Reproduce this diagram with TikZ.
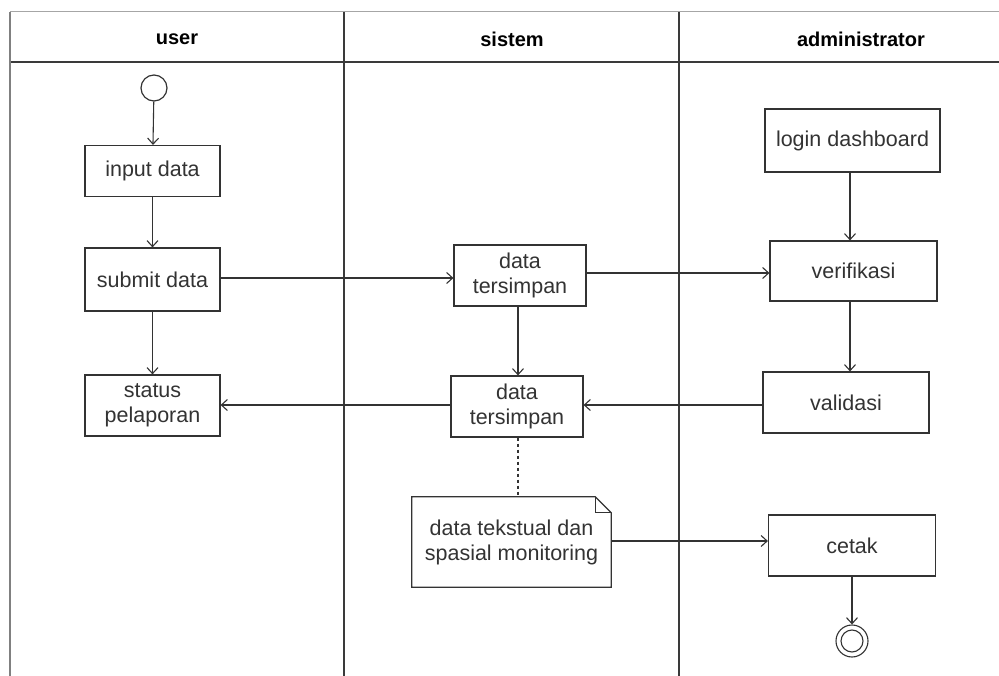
\documentclass[tikz,border=0pt]{standalone}
\usepackage{fontspec}
\setmainfont{Liberation Sans}
\usetikzlibrary{arrows.meta}
\definecolor{lane}{HTML}{3A3A3A}
\definecolor{ink}{HTML}{333333}
\begin{document}
\begin{tikzpicture}[x=1pt,y=-1pt,
  every node/.style={font=\fontsize{21.5}{25}\selectfont, text=ink},
  act/.style={draw=ink, line width=1.2pt, fill=white, align=center, inner sep=2pt},
  lanehead/.style={font=\fontsize{20}{22}\selectfont\bfseries, text=black},
  flow/.style={draw=ink, line width=1.1pt, -{Straight Barb[length=6pt,width=11pt,line width=1.1pt]}},
  link/.style={draw=ink, line width=1.1pt, dash pattern=on 3pt off 3pt}
]
\useasboundingbox (0,0) rectangle (999,676);
% swimlane frame
\draw[draw=gray!70, line width=1pt] (10,12) -- (999,12);
\draw[draw=lane, line width=1.2pt] (10,62) -- (999,62);
\draw[draw=gray, line width=2pt] (10,12) -- (10,676);
\draw[draw=lane, line width=2pt] (344,12) -- (344,676);
\draw[draw=lane, line width=2pt] (679,12) -- (679,676);
\node[lanehead] (h1) at (177,39) {user};
\node[lanehead] (h2) at (512,39) {sistem};
\node[lanehead] (h3) at (861,39) {administrator};

% user lane
\node[draw=ink, line width=1.2pt, circle, minimum size=26pt, inner sep=0pt] (start) at (154,88) {};
\node[act, minimum width=135pt, minimum height=51pt] (input) at (152.5,171) {input data};
\node[act, minimum width=135pt, minimum height=63pt] (submit) at (152.5,279.5) {submit data};
\node[act, minimum width=135pt, minimum height=61pt] (status) at (152.5,405.5) {status\\pelaporan};

% system lane
\node[act, minimum width=132pt, minimum height=61pt] (dt1) at (520,275.5) {data\\tersimpan};
\node[act, minimum width=132pt, minimum height=61pt] (dt2) at (517,406.5) {data\\tersimpan};
\node[minimum width=199pt, minimum height=90pt, align=center, inner sep=2pt] (note) at (511.5,542) {data tekstual dan\\spasial monitoring};
\draw[draw=ink, line width=1.2pt] (note.north west) -- ([xshift=-16pt]note.north east)
  -- ([yshift=-16pt]note.north east) -- (note.south east) -- (note.south west) -- cycle;
\draw[draw=ink, line width=1.2pt] ([xshift=-16pt]note.north east) -- ([xshift=-16pt,yshift=-16pt]note.north east)
  -- ([yshift=-16pt]note.north east);

% administrator lane
\node[act, minimum width=175pt, minimum height=63pt] (login) at (852.5,140.5) {login dashboard};
\node[act, minimum width=167pt, minimum height=60pt] (verif) at (853.5,271) {verifikasi};
\node[act, minimum width=166pt, minimum height=61pt] (valid) at (846,402.5) {validasi};
\node[act, minimum width=167pt, minimum height=61pt] (cetak) at (852,545.5) {cetak};
\node[draw=ink, line width=1.1pt, circle, minimum size=32pt, inner sep=0pt] (end) at (852,641) {};
\node[draw=ink, line width=1.1pt, circle, minimum size=22pt, inner sep=0pt] (endin) at (end) {};

% flows
\draw[flow] (start) -- (input);
\draw[flow] (input) -- (submit);
\draw[flow] (submit) -- (status);
\draw[flow] (submit.east |- 0,278) -- (dt1.west |- 0,278);
\draw[flow] (dt1.east |- 0,273) -- (verif.west |- 0,273);
\draw[flow] (850,0 |- login.south) -- (850,0 |- verif.north);
\draw[flow] (850,0 |- verif.south) -- (850,0 |- valid.north);
\draw[flow] (dt1.south -| 518,0) -- (dt2.north -| 518,0);
\draw[flow] (valid.west |- 0,405) -- (dt2.east |- 0,405);
\draw[flow] (dt2.west |- 0,405) -- (status.east |- 0,405);
\draw[link] (dt2.south -| 518,0) -- (note.north -| 518,0);
\draw[flow] (note.east |- 0,541) -- (cetak.west |- 0,541);
\draw[flow] (cetak) -- (end);
\end{tikzpicture}
\end{document}
